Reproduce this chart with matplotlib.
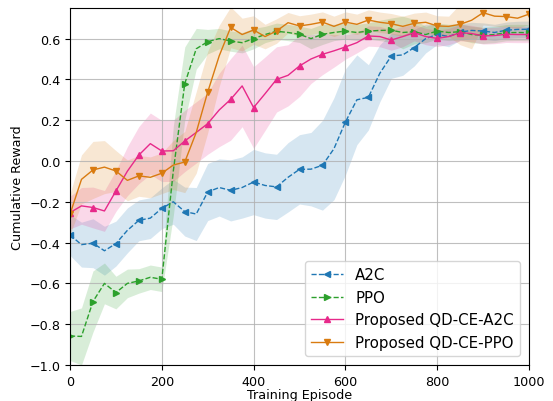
import numpy as np
import matplotlib
matplotlib.use('Agg')
import matplotlib.pyplot as plt

plt.rcParams['font.size'] = 9.2

# episodes sampled every 25, markers every 50
episodes = np.arange(0, 1001, 25)

a2c_mean = [-0.363, -0.41, -0.403, -0.44, -0.405, -0.34, -0.291, -0.28, -0.232, -0.20, -0.248,
            -0.26, -0.152, -0.13, -0.144, -0.13, -0.103, -0.12, -0.127, -0.08, -0.041, -0.04,
            -0.021, 0.06, 0.191, 0.30, 0.312, 0.43, 0.515, 0.52, 0.556, 0.60, 0.621, 0.61,
            0.632, 0.64, 0.637, 0.63, 0.641, 0.645, 0.646]
a2c_std = [0.10, 0.11, 0.12, 0.12, 0.11, 0.11, 0.10, 0.10, 0.10, 0.11, 0.12, 0.13, 0.14, 0.14,
           0.15, 0.15, 0.16, 0.16, 0.16, 0.17, 0.17, 0.18, 0.22, 0.25, 0.26, 0.22, 0.16, 0.14,
           0.11, 0.10, 0.09, 0.07, 0.05, 0.05, 0.04, 0.04, 0.04, 0.04, 0.04, 0.04, 0.04]

ppo_mean = [-0.858, -0.86, -0.689, -0.60, -0.645, -0.60, -0.588, -0.57, -0.580, -0.05, 0.379,
            0.55, 0.585, 0.60, 0.588, 0.58, 0.600, 0.62, 0.636, 0.63, 0.621, 0.60, 0.621, 0.63,
            0.637, 0.63, 0.637, 0.64, 0.641, 0.63, 0.634, 0.62, 0.637, 0.63, 0.634, 0.62,
            0.616, 0.62, 0.629, 0.63, 0.629]
ppo_std = [0.12, 0.14, 0.15, 0.10, 0.08, 0.07, 0.06, 0.06, 0.06, 0.22, 0.18, 0.10, 0.06, 0.05,
           0.05, 0.05, 0.05, 0.04, 0.04, 0.04, 0.04, 0.05, 0.05, 0.04, 0.04, 0.04, 0.04, 0.05,
           0.06, 0.08, 0.06, 0.04, 0.04, 0.04, 0.04, 0.04, 0.04, 0.04, 0.04, 0.04, 0.04]

qd_a2c_mean = [-0.253, -0.22, -0.228, -0.245, -0.147, -0.05, 0.029, 0.085, 0.049, 0.05, 0.098,
               0.14, 0.183, 0.25, 0.302, 0.368, 0.262, 0.33, 0.40, 0.42, 0.466, 0.50, 0.523,
               0.54, 0.559, 0.58, 0.613, 0.61, 0.593, 0.61, 0.629, 0.61, 0.601, 0.61, 0.629,
               0.625, 0.613, 0.615, 0.621, 0.62, 0.62]
qd_a2c_std = [0.08, 0.09, 0.10, 0.10, 0.10, 0.12, 0.14, 0.15, 0.15, 0.15, 0.15, 0.15, 0.15,
              0.18, 0.20, 0.20, 0.20, 0.18, 0.16, 0.15, 0.15, 0.12, 0.10, 0.08, 0.06, 0.05,
              0.05, 0.05, 0.05, 0.05, 0.04, 0.04, 0.04, 0.04, 0.04, 0.04, 0.04, 0.04, 0.04,
              0.04, 0.04]

qd_ppo_mean = [-0.261, -0.09, -0.044, -0.03, -0.049, -0.095, -0.073, -0.08, -0.060, -0.02,
               -0.005, 0.14, 0.338, 0.515, 0.655, 0.62, 0.642, 0.61, 0.637, 0.678, 0.662,
               0.67, 0.681, 0.66, 0.681, 0.67, 0.691, 0.68, 0.673, 0.66, 0.675, 0.68, 0.662,
               0.66, 0.670, 0.69, 0.727, 0.71, 0.708, 0.70, 0.72]
qd_ppo_std = [0.10, 0.12, 0.14, 0.13, 0.10, 0.10, 0.10, 0.10, 0.10, 0.12, 0.15, 0.20, 0.20,
              0.15, 0.10, 0.08, 0.07, 0.06, 0.06, 0.05, 0.05, 0.05, 0.05, 0.05, 0.05, 0.05,
              0.05, 0.05, 0.05, 0.05, 0.05, 0.05, 0.05, 0.05, 0.10, 0.14, 0.06, 0.05, 0.05,
              0.05, 0.05]

series = [
    ('A2C', a2c_mean, a2c_std, '#1f77b4', '<', '--'),
    ('PPO', ppo_mean, ppo_std, '#2ca02c', '>', '--'),
    ('Proposed QD-CE-A2C', qd_a2c_mean, qd_a2c_std, '#e7298a', '^', '-'),
    ('Proposed QD-CE-PPO', qd_ppo_mean, qd_ppo_std, '#d97b10', 'v', '-'),
]

fig = plt.figure(figsize=(5.53, 4.02), dpi=100)
ax = fig.add_axes([0.1266, 0.0896, 0.83, 0.888])

for label, mean, std, color, marker, ls in series:
    mean = np.array(mean)
    std = np.array(std)
    ax.fill_between(episodes, mean - std, mean + std, color=color, alpha=0.18, linewidth=0)
    ax.plot(episodes, mean, color=color, linestyle=ls, linewidth=1.0,
            marker=marker, markersize=5, markevery=2, label=label)

ax.set_xlim(0, 1000)
ax.set_ylim(-1.0, 0.75)
ax.set_yticks([-1.0, -0.8, -0.6, -0.4, -0.2, 0.0, 0.2, 0.4, 0.6])
ax.grid(True, color='#b0b0b0', linewidth=0.8, alpha=0.8)
ax.set_xlabel('Training Episode', labelpad=0)
ax.set_ylabel('Cumulative Reward')
ax.legend(loc='lower right', fontsize=10.8, handlelength=2.1, handletextpad=0.85,
          borderaxespad=0.6)

plt.savefig('out.png', dpi=100)
